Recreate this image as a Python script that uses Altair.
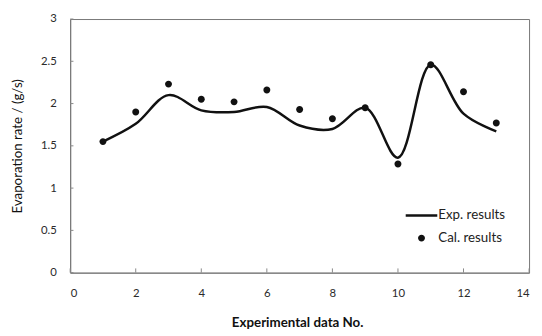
import altair as alt
import pandas as pd

x_no = list(range(1, 14))
exp_results = [1.55, 1.76, 2.10, 1.92, 1.90, 1.96, 1.74, 1.70, 1.95, 1.36, 2.46, 1.88, 1.67]
cal_results = [1.55, 1.90, 2.23, 2.05, 2.02, 2.16, 1.93, 1.82, 1.95, 1.285, 2.46, 2.14, 1.77]
x_ticks = [0, 2, 4, 6, 8, 10, 12, 14]
y_ticks = [0, 0.5, 1, 1.5, 2, 2.5, 3]
series_names = ["Exp. results", "Cal. results"]

exp_df = pd.DataFrame({"x": x_no, "y": exp_results, "series": series_names[0]})
cal_df = pd.DataFrame({"x": x_no, "y": cal_results, "series": series_names[1]})
xtick_df = pd.DataFrame({"x": x_ticks})
ytick_df = pd.DataFrame({"y": y_ticks})

FONT = "Lato"
xscale = alt.Scale(domain=[0, 14], nice=False, zero=False)
yscale = alt.Scale(domain=[0, 3], nice=False)

line_shape = "M-1,-0.08H1V0.08H-1Z"
dot_shape = "M-0.22,0A0.22,0.22,0,1,1,0.22,0A0.22,0.22,0,1,1,-0.22,0Z"

x_axis = alt.Axis(
    values=x_ticks, title="Experimental data No.", grid=False, tickSize=0,
    labelPadding=15, labelFont=FONT, labelFontSize=11.5, labelColor="#2a2a2a",
    titleFont=FONT, titleFontSize=13.5, titleFontWeight="bold", titleColor="#111",
    titleX=230, titleY=51, titleBaseline="middle", domainColor="#777",
)
y_axis = alt.Axis(
    values=y_ticks, title="Evaporation rate / (g/s)", grid=False, tickSize=0,
    labelPadding=14, labelFont=FONT, labelFontSize=11.5,
    labelColor="#2a2a2a", labelExpr="toString(datum.value)",
    titleFont=FONT, titleFontSize=13.5, titleFontWeight="normal", titleColor="#111",
    titleX=-53, titleY=128.5, titleAngle=-90, titleBaseline="middle",
    titleAlign="center", domainColor="#777",
)

line = alt.Chart(exp_df).mark_line(
    interpolate="catmull-rom", color="#111", strokeWidth=2.5
).encode(
    x=alt.X("x:Q", scale=xscale, axis=x_axis),
    y=alt.Y("y:Q", scale=yscale, axis=y_axis),
)

points = alt.Chart(cal_df).mark_point(
    filled=True, color="#111", opacity=1, size=1024
).encode(
    x=alt.X("x:Q", scale=xscale),
    y=alt.Y("y:Q", scale=yscale),
    shape=alt.Shape(
        "series:N",
        scale=alt.Scale(domain=series_names, range=[line_shape, dot_shape]),
        legend=alt.Legend(
            title=None, orient="none", legendX=340, legendY=183,
            symbolSize=1024, symbolFillColor="#111", symbolStrokeWidth=0,
            symbolOpacity=1, labelFont=FONT, labelFontSize=13.5, labelColor="#222",
            labelOffset=1, rowPadding=0, padding=0,
        ),
    ),
)

xticks = alt.Chart(xtick_df).mark_rule(color="#888").encode(
    x=alt.X("x:Q", scale=xscale),
    y=alt.datum(0),
    y2=alt.datum(0.05),
)
yticks = alt.Chart(ytick_df).mark_rule(color="#888").encode(
    y=alt.Y("y:Q", scale=yscale),
    x=alt.datum(0),
    x2=alt.datum(0.1),
)

chart = alt.layer(line, points, xticks, yticks).properties(
    width=465, height=257,
    padding={"left": 63, "top": 9, "right": 5, "bottom": 60},
    autosize=alt.AutoSizeParams(type="none"),
    background="white",
).configure_view(stroke="#777", strokeWidth=1)

chart.save("out.html", embed_options={"renderer": "svg", "actions": False})
